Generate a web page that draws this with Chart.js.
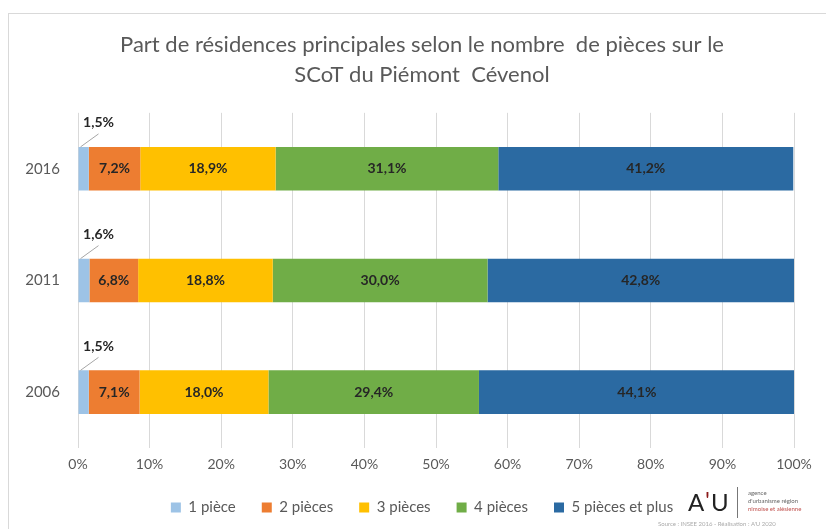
<!DOCTYPE html>
<html>
<head>
<meta charset="utf-8">
<script src="https://cdn.jsdelivr.net/npm/chart.js@4.4.1/dist/chart.umd.min.js"></script>
<style>
  html, body { margin: 0; padding: 0; background: #fff; width: 826px; height: 529px; overflow: hidden; }
  #frame { position: absolute; left: 8px; top: 13px; width: 828px; height: 516px;
           border-left: 1px solid #d9d9d9; border-top: 1px solid #d9d9d9; box-sizing: border-box; }
  #wrap { position: absolute; left: 8px; top: 13px; width: 828px; height: 516px; }
</style>
</head>
<body>
<div id="frame"></div>
<div id="wrap"><canvas id="c" width="828" height="516"></canvas></div>
<script>
const categories = ["2016", "2011", "2006"];
const seriesNames = ["1 pièce", "2 pièces", "3 pièces", "4 pièces", "5 pièces et plus"];
const piece1 = [1.5, 1.6, 1.5];
const piece2 = [7.2, 6.8, 7.1];
const piece3 = [18.9, 18.8, 18.0];
const piece4 = [31.1, 30.0, 29.4];
const piece5 = [41.2, 42.8, 44.1];
const xTicks = [0, 10, 20, 30, 40, 50, 60, 70, 80, 90, 100];
const titleLines = ["Part de résidences principales selon le nombre  de pièces sur le", "SCoT du Piémont  Cévenol"];
const colors = ["#9DC3E6", "#ED7D31", "#FFC000", "#70AD47", "#2B6AA2"];

const fmt = v => v.toFixed(1).replace(".", ",") + "%";

const labelPlugin = {
  id: "labels",
  afterDatasetsDraw(chart) {
    const ctx = chart.ctx;
    ctx.save();
    ctx.font = "bold 14px Lato";
    ctx.fillStyle = "#262626";
    ctx.textAlign = "center";
    ctx.textBaseline = "middle";
    chart.data.datasets.forEach((ds, i) => {
      const meta = chart.getDatasetMeta(i);
      meta.data.forEach((bar, j) => {
        const v = ds.data[j];
        const top = bar.y - bar.height / 2;
        if (i === 0) {
          ctx.strokeStyle = "#a6a6a6";
          ctx.lineWidth = 1;
          ctx.beginPath();
          ctx.moveTo(bar.base + 2, top);
          ctx.lineTo(bar.base + 20, top - 13);
          ctx.stroke();
          ctx.fillText(fmt(v), bar.base + 20, top - 24);
        } else {
          ctx.fillText(fmt(v), (bar.x + bar.base) / 2, bar.y);
        }
      });
    });
    ctx.restore();
  }
};

const logoPlugin = {
  id: "logo",
  afterDraw(chart) {
    const ctx = chart.ctx;
    ctx.save();
    ctx.textBaseline = "middle";
    ctx.textAlign = "left";
    ctx.font = "24px Lato";
    ctx.fillStyle = "#222";
    ctx.fillText("A", 680, 490);
    ctx.fillStyle = "#8b1a1a";
    ctx.fillText("'", 697, 488);
    ctx.fillStyle = "#222";
    ctx.fillText("U", 703, 490);
    ctx.strokeStyle = "#777";
    ctx.beginPath();
    ctx.moveTo(729.5, 474);
    ctx.lineTo(729.5, 505);
    ctx.stroke();
    ctx.font = "6px Lato";
    ctx.fillStyle = "#666";
    ctx.fillText("agence", 740, 480);
    ctx.fillText("d'urbanisme région", 740, 488);
    ctx.fillStyle = "#c0504d";
    ctx.fillText("nîmoise et alésienne", 740, 496);
    ctx.fillStyle = "#aaa";
    ctx.fillText("Source : INSEE 2016 - Réalisation : A'U 2020", 650, 511);
    ctx.restore();
  }
};

const datasets = [piece1, piece2, piece3, piece4, piece5].map((d, i) => ({
  label: seriesNames[i],
  data: d,
  backgroundColor: colors[i],
  borderWidth: 0,
  categoryPercentage: 1,
  barPercentage: 0.39
}));

new Chart(document.getElementById("c"), {
  type: "bar",
  data: { labels: categories, datasets },
  plugins: [labelPlugin, logoPlugin],
  options: {
    indexAxis: "y",
    responsive: false,
    animation: false,
    layout: { padding: { top: 0, bottom: 4, left: 0, right: 0 } },
    plugins: {
      title: {
        display: true,
        text: titleLines,
        color: "#595959",
        font: { family: "Lato", size: 22, weight: "normal", lineHeight: 1.36 },
        padding: { top: 17, bottom: 23 }
      },
      legend: {
        position: "bottom",
        labels: {
          color: "#595959",
          font: { family: "Lato", size: 15 },
          boxWidth: 10,
          boxHeight: 10,
          padding: 26
        }
      },
      tooltip: { enabled: false }
    },
    scales: {
      x: {
        stacked: true,
        min: 0,
        max: 100,
        afterBuildTicks: s => { s.ticks = xTicks.map(v => ({ value: v })); },
        afterFit: s => { s.height = 26; },
        ticks: {
          callback: v => v + "%",
          color: "#595959",
          font: { family: "Lato", size: 14 },
          padding: 8
        },
        grid: { color: "#d9d9d9", drawTicks: false },
        border: { display: false }
      },
      y: {
        stacked: true,
        afterFit: s => { s.width = 70; },
        ticks: {
          color: "#595959",
          font: { family: "Lato", size: 15 },
          padding: 10
        },
        grid: { display: false },
        border: { display: false }
      },
      yRight: {
        type: "category",
        position: "right",
        afterFit: s => { s.width = 42; },
        ticks: { display: false },
        grid: { display: false },
        border: { display: false }
      }
    }
  }
});
</script>
</body>
</html>
